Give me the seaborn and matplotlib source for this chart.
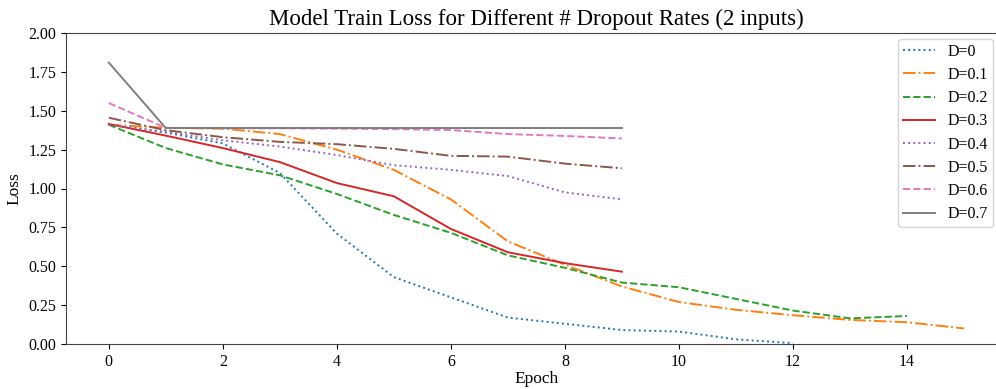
import matplotlib
matplotlib.use("Agg")
import matplotlib.pyplot as plt
import seaborn as sns
import pandas as pd

plt.rcParams['font.family'] = ['Liberation Serif', 'DejaVu Serif']

labels = ["D=0", "D=0.1", "D=0.2", "D=0.3", "D=0.4", "D=0.5", "D=0.6", "D=0.7"]
loss_d0 = [1.41, 1.36, 1.29, 1.10, 0.71, 0.43, 0.30, 0.17, 0.13, 0.09, 0.08, 0.03, 0.005]
loss_d01 = [1.41, 1.39, 1.385, 1.35, 1.25, 1.12, 0.93, 0.66, 0.51, 0.37, 0.27, 0.22, 0.185, 0.155, 0.14, 0.10]
loss_d02 = [1.41, 1.26, 1.155, 1.085, 0.965, 0.83, 0.715, 0.57, 0.49, 0.395, 0.365, 0.29, 0.215, 0.165, 0.18]
loss_d03 = [1.415, 1.34, 1.26, 1.17, 1.035, 0.95, 0.74, 0.59, 0.52, 0.465]
loss_d04 = [1.41, 1.365, 1.31, 1.27, 1.215, 1.15, 1.12, 1.08, 0.975, 0.93]
loss_d05 = [1.455, 1.375, 1.33, 1.30, 1.285, 1.255, 1.21, 1.205, 1.16, 1.13]
loss_d06 = [1.55, 1.39, 1.387, 1.387, 1.385, 1.382, 1.376, 1.35, 1.338, 1.322]
loss_d07 = [1.81, 1.389, 1.389, 1.389, 1.389, 1.389, 1.389, 1.389, 1.389, 1.389]
series = [loss_d0, loss_d01, loss_d02, loss_d03, loss_d04, loss_d05, loss_d06, loss_d07]

colors = sns.color_palette("tab10", 8)
styles = [":", "-.", "--", "-", ":", "-.", "--", "-"]

W, H = 996, 389
fig = plt.figure(figsize=(W / 100, H / 100), dpi=100)
x0_px, px_per = 109, 57.0
left_px = 66
right_px = x0_px + 15.75 * px_per
bottom_px, top_px = 344, 33
ax = fig.add_axes([left_px / W, (H - bottom_px) / H,
                   (right_px - left_px) / W, (bottom_px - top_px) / H])

for lab, vals, c, ls in zip(labels, series, colors, styles):
    df = pd.DataFrame({"Epoch": list(range(len(vals))), "Loss": vals})
    sns.lineplot(data=df, x="Epoch", y="Loss", ax=ax, color=c, linestyle=ls,
                 linewidth=1.4, label=lab)

ax.set_xlim(-0.75, 15.75)
ax.set_ylim(0, 2.0)
ax.set_xticks(range(0, 16, 2))
ax.set_yticks([0, 0.25, 0.5, 0.75, 1.0, 1.25, 1.5, 1.75, 2.0])
ax.set_yticklabels([f"{v:.2f}" for v in [0, 0.25, 0.5, 0.75, 1.0, 1.25, 1.5, 1.75, 2.0]])
ax.tick_params(labelsize=11.5)
ax.set_xlabel("Epoch", fontsize=12.5, labelpad=1)
ax.set_ylabel("Loss", fontsize=12.5, labelpad=4)
ax.set_title("Model Train Loss for Different # Dropout Rates (2 inputs)", fontsize=16.5, pad=6)
for s in ax.spines.values():
    s.set_color("#444444")

ax.legend(loc="upper right", bbox_to_anchor=(993 / W, 1 - 39 / H),
          bbox_transform=fig.transFigure, borderaxespad=0, fontsize=11.5,
          handlelength=2.0, labelspacing=0.45, borderpad=0.3)

fig.savefig("out.png", dpi=100)
